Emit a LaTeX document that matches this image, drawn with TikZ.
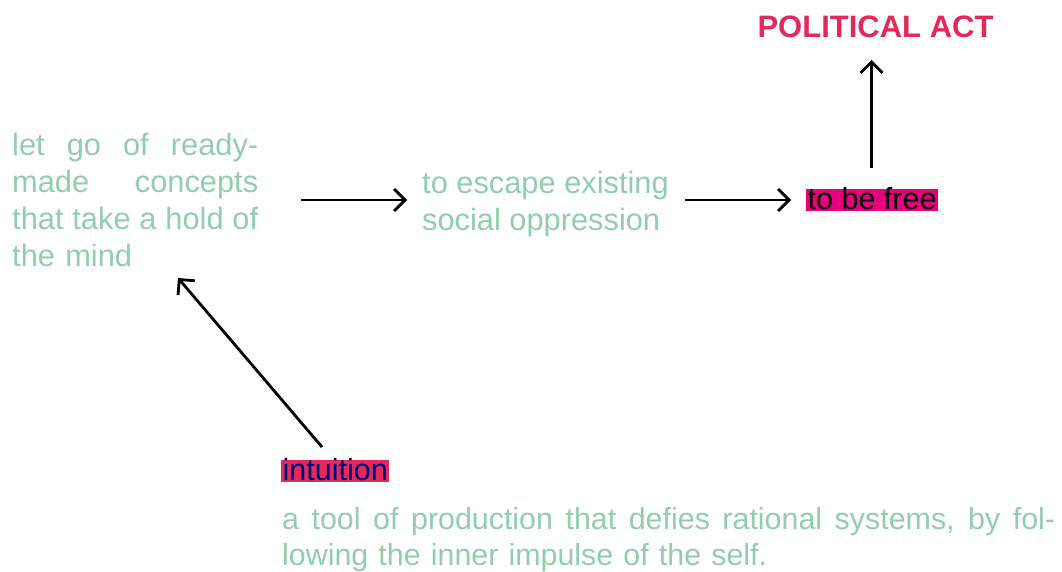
\documentclass[tikz,border=0pt]{standalone}
\usepackage{fontspec}
\setmainfont{Liberation Sans}
\usetikzlibrary{arrows.meta}
\definecolor{soft}{RGB}{146,205,174}
\definecolor{crim}{RGB}{226,42,90}
\definecolor{mag}{RGB}{230,0,126}
\definecolor{navy}{RGB}{0,0,128}
\newcommand{\jline}[2]{\makebox[#1][s]{\spaceskip=0pt\xspaceskip=0pt\relax #2}}
\tikzset{
  txt/.style={inner sep=0pt, text=soft, font=\fontsize{30.8}{37}\selectfont, align=left},
  hl/.style={inner xsep=1.5pt, inner ysep=0pt, text height=20pt, text depth=2pt, font=\fontsize{30.5}{37}\selectfont},
  arr/.style={draw=black, line width=2.8pt, -{Straight Barb[length=11pt,width=22pt,line width=2.8pt]}},
}
\begin{document}
\begin{tikzpicture}[x=1pt,y=-1pt]
\useasboundingbox (0,0) rectangle (1062,571);
\node[txt, anchor=north west, text width=246pt] (mind) at (12,133)
  {\jline{246pt}{let go of ready-}\\\jline{246pt}{made concepts}\\\jline{246pt}{that take a hold of}\\the mind};
\node[txt, anchor=north west] (escape) at (422,171) {to escape existing\\social oppression};
\node[hl, fill=mag, text=black, anchor=base west] (free) at (806,209) {to be free};
\node[anchor=base, inner sep=0pt, text=crim, font=\fontsize{31}{37}\selectfont\bfseries] (act) at (875.5,37.5) {POLITICAL ACT};
\node[hl, fill=crim, text=navy, anchor=base west] (intu) at (281,480) {intuition};
\node[txt, anchor=north west, text width=773pt, font=\fontsize{30.4}{36}\selectfont] (tool) at (282,507)
  {\jline{773pt}{a tool of production that defies rational systems, by fol-}\\lowing the inner impulse of the self.};
\coordinate (a1s) at (301,200);
\coordinate (a1e) at (407,200);
\coordinate (a2s) at (685,200);
\coordinate (a2e) at (791,200);
\coordinate (a3s) at (871.5,168);
\coordinate (a3e) at (871.5,60);
\coordinate (a4s) at (322,447);
\coordinate (a4e) at (178,278);
\draw[arr] (a1s) -- (a1e);
\draw[arr] (a2s) -- (a2e);
\draw[arr] (a3s) -- (a3e);
\draw[arr] (a4s) -- (a4e);
\end{tikzpicture}
\end{document}
